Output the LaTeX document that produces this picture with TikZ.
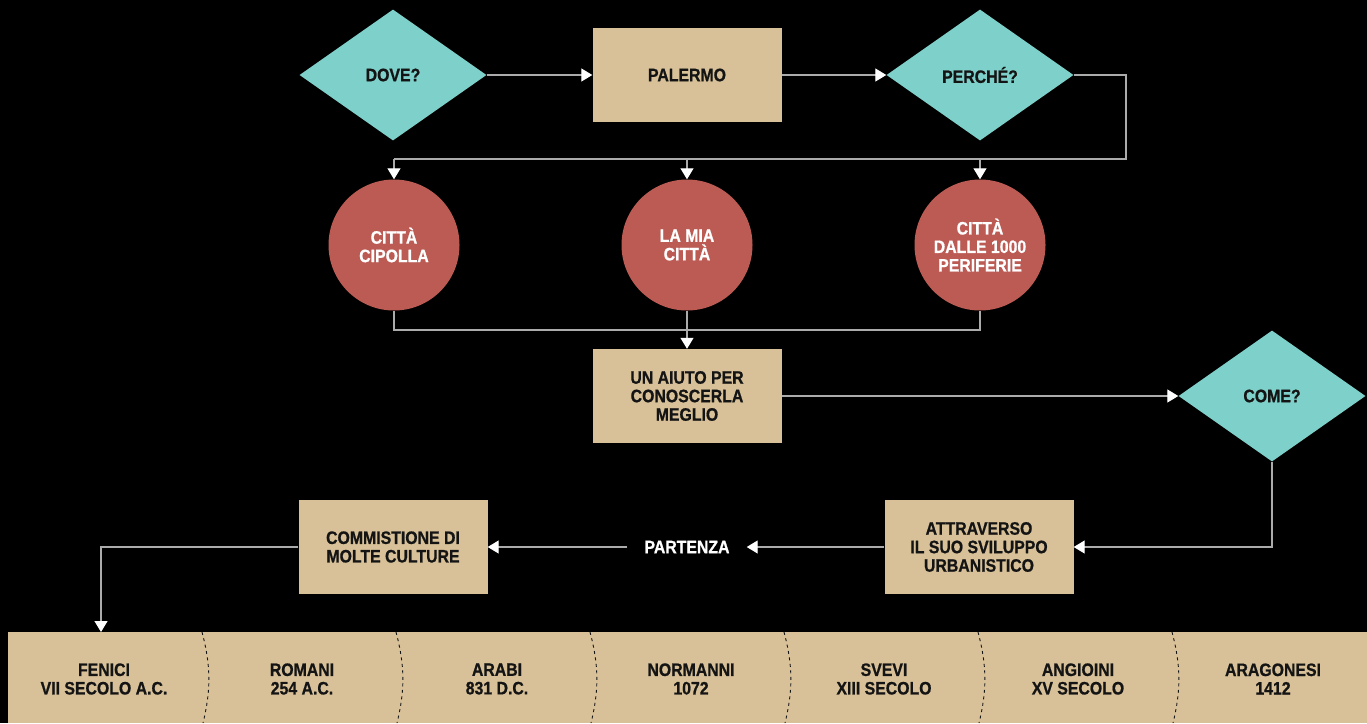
\documentclass[tikz,border=0pt]{standalone}
\usepackage{fontspec}
\setmainfont{Liberation Sans}[FakeStretch=0.88, BoldFeatures={FakeBold=0.8}]
\usetikzlibrary{shapes.geometric,arrows.meta}
\definecolor{teal}{HTML}{7ED0CA}
\definecolor{sand}{HTML}{D8C198}
\definecolor{brick}{HTML}{BC5B54}
\definecolor{wire}{HTML}{ABABAB}
\definecolor{ink}{HTML}{141414}
\tikzset{
  lbl/.style={font=\bfseries\fontsize{18}{18.5}\selectfont, align=center},
  question/.style={lbl, diamond, fill=teal, text=ink, inner sep=0pt,
    minimum width=187pt, minimum height=131pt},
  card/.style={lbl, rectangle, fill=sand, text=ink, inner sep=0pt,
    minimum width=189pt, minimum height=94pt},
  topic/.style={lbl, circle, fill=brick, text=white, inner sep=0pt,
    minimum size=131pt},
  era/.style={lbl, text=ink, inner sep=0pt},
  wireline/.style={draw=wire, line width=1.2pt},
  flow/.style={wireline, -{Triangle[length=11pt,width=13pt,color=white]}},
  divider/.style={draw=ink, line width=0.9pt, dash pattern=on 3pt off 3.5pt}
}
\begin{document}
\begin{tikzpicture}[x=1pt, y=-1pt]
% canvas
\fill[black] (0,0) rectangle (1367,723);
\useasboundingbox (0,0) rectangle (1367,723);

% top row
\node[question] (dove) at (393,75) {DOVE?};
\node[card] (palermo) at (687,75) {PALERMO};
\node[question] (perche) at (980,75) {PERCHÉ?};

% topics
\node[topic] (c1) at (394,245) {CITTÀ\\CIPOLLA};
\node[topic] (c2) at (687,245) {LA MIA\\CITTÀ};
\node[topic] (c3) at (980,245) {CITTÀ\\DALLE 1000\\PERIFERIE};

% middle
\node[card] (aiuto) at (687,396) {UN AIUTO PER\\CONOSCERLA\\MEGLIO};
\node[question] (come) at (1272,396) {COME?};

% lower row
\node[card] (attr) at (979,547) {ATTRAVERSO\\IL SUO SVILUPPO\\URBANISTICO};
\node[lbl, text=white, inner xsep=17pt, inner ysep=4pt] (partenza) at (687,547) {PARTENZA};
\node[card] (comm) at (393,547) {COMMISTIONE DI\\MOLTE CULTURE};

% timeline band
\fill[sand] (8,632) rectangle (1367,723);
\foreach \sx in {202,396,590,784,978,1172}{
  \draw[divider] (\sx,632) .. controls (\sx+9,666) and (\sx+9,690) .. (\sx+1,723);
}
\node[era] (e1) at (104,679) {FENICI\\VII SECOLO A.C.};
\node[era] (e2) at (302,679) {ROMANI\\254 A.C.};
\node[era] (e3) at (497,679) {ARABI\\831 D.C.};
\node[era] (e4) at (691,679) {NORMANNI\\1072};
\node[era] (e5) at (884,679) {SVEVI\\XIII SECOLO};
\node[era] (e6) at (1078,679) {ANGIOINI\\XV SECOLO};
\node[era] (e7) at (1273,679) {ARAGONESI\\1412};

% routing points
\coordinate (pr) at (1126,75);
\coordinate (pd) at (1126,159);
\coordinate (s1) at (394,159);
\coordinate (s2) at (687,159);
\coordinate (s3) at (980,159);
\coordinate (j1) at (394,330);
\coordinate (j2) at (687,330);
\coordinate (j3) at (980,330);
\coordinate (cd) at (1272,547);
\coordinate (tl) at (101,547);
\coordinate (tt) at (101,632);

% connectors
\draw[flow] (dove.east) -- (palermo.west);
\draw[flow] (palermo.east) -- (perche.west);
\draw[wireline] (perche.east) -- (pr) -- (pd) -- (s1);
\draw[flow] (s1) -- (c1.north);
\draw[flow] (s2) -- (c2.north);
\draw[flow] (s3) -- (c3.north);
\draw[wireline] (c1.south) -- (j1) -- (j3) -- (c3.south);
\draw[wireline] (c2.south) -- (j2);
\draw[flow] (j2) -- (aiuto.north);
\draw[flow] (aiuto.east) -- (come.west);
\draw[flow] (come.south) -- (cd) -- (attr.east);
\draw[flow] (attr.west) -- (partenza.east);
\draw[flow] (partenza.west) -- (comm.east);
\draw[flow] (comm.west) -- (tl) -- (tt);
\end{tikzpicture}
\end{document}
